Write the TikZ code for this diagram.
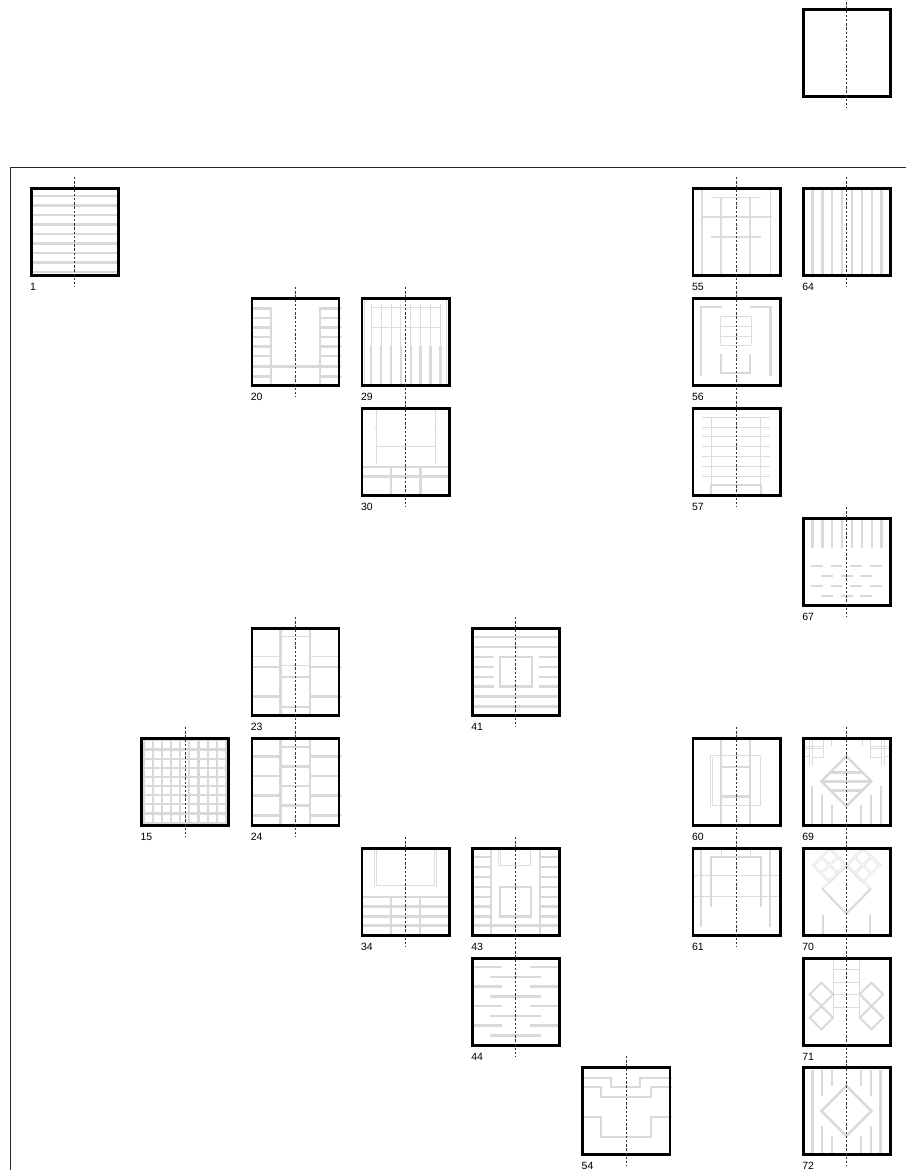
\documentclass[tikz,border=0pt]{standalone}
\usepackage{fontspec}
\setmainfont{Liberation Sans}
\definecolor{stripe}{HTML}{D9D9D9}
\definecolor{thinc}{HTML}{DCDCDC}
\tikzset{
  frame/.style={draw=black, line width=2.6pt, minimum size=87.2pt, inner sep=0pt, outer sep=0pt},
  g/.style={draw=stripe, line width=2.5pt},
  gm/.style={draw=stripe, line width=2pt},
  t/.style={draw=thinc, line width=1pt},
  tt/.style={draw=thinc, line width=0.7pt, double=white, double distance=0.9pt},
  axis/.style={draw=black!80, line width=0.6pt, dash pattern=on 2.4pt off 1.8pt},
  rule/.style={draw=black!85, line width=0.8pt},
  lbl/.style={font=\fontsize{10.5}{12}\selectfont, inner sep=0pt, anchor=north west},
}
\newcommand{\tile}[5]{%
  \begin{scope}[shift={(#2,#3)}]
    #5
    \node[frame] (#1) at (44.8,44.8) {};
    \draw[axis] (44.5,-10) -- (44.5,100);
    \node[lbl] (#1l) at (0,95.6) {#4};
  \end{scope}%
}
\newcommand{\cornerpat}{%
  \draw[t] (7.5,0)--(7.5,29.3) (10,0)--(10,29.3) (0,9.3)--(21,9.3) (0,11.3)--(21,11.3)
           (21,0)--(21,20.3)--(10,20.3) (29.3,0)--(29.3,9.3) (0,19.3)--(7.5,19.3);
}
\newcommand{\lobe}[2]{%
  \draw[tt] (#1,#2-16.7)--(#1+16.7,#2)--(#1,#2+16.7)--(#1-16.7,#2)--cycle
            (#1-8.35,#2-8.35)--(#1+8.35,#2+8.35) (#1+8.35,#2-8.35)--(#1-8.35,#2+8.35);
}
\begin{document}
\begin{tikzpicture}[x=1pt,y=-1pt]
\useasboundingbox (0,0) rectangle (906,1170);
\draw[rule] (10,167.3) -- (906,167.3);
\draw[rule] (10.5,167.3) -- (10.5,1170);

% top box
\tile{top}{802.2}{8}{}{}

% 1
\tile{b1}{30}{187}{1}{
  \foreach \y in {9,18.5,...,85} \draw[g] (0,\y)--(90,\y);
}
% 20
\tile{b20}{250.6}{297}{20}{
  \draw[g] (20.3,10)--(20.3,90) (69.3,10)--(69.3,90) (0,69.3)--(90,69.3);
  \foreach \y in {11.7,21,30.7,40,49.7,59,79.7} \draw[g] (0,\y)--(20.3,\y) (69.3,\y)--(90,\y);
}
% 29
\tile{b29}{360.9}{297}{29}{
  \foreach \x in {10.3,20.2,30.1,40,49.9,59.8,69.7,79.6} {\draw[t] (\x,6.7)--(\x,90); \draw[g] (\x,49)--(\x,90);}
  \draw[t] (10.3,10.7)--(79.6,10.7) (10.3,30)--(79.6,30);
  \draw[t] (3.5,0)--(3.5,90) (86,0)--(86,90);
}
% 30
\tile{b30}{360.9}{407}{30}{
  \draw[t] (15.3,0)--(15.3,56.7) (74.3,0)--(74.3,56.7) (15.3,39)--(74.3,39);
  \fill[stripe] (15.3,20) circle (1.2) (74.3,20) circle (1.2);
  \draw[g] (0,60)--(90,60) (0,69.3)--(90,69.3) (30,60)--(30,90) (59.5,60)--(59.5,90);
}
% 55
\tile{b55}{691.8}{187}{55}{
  \draw[t,line width=1.3pt] (10.3,0)--(10.3,90) (78.7,0)--(78.7,90) (29.3,10)--(29.3,90) (58.3,10)--(58.3,90)
    (19.3,10.7)--(69.3,10.7) (9.3,30)--(79.7,30) (19.3,50)--(69.3,50);
}
% 64
\tile{b64}{802.1}{187}{64}{
  \foreach \x in {10.3,20.2,30.1,40,49.9,59.8,69.7,79.6} \draw[g] (\x,0)--(\x,90);
}
% 56
\tile{b56}{691.8}{297}{56}{
  \draw[g] (9.3,79)--(9.3,10)--(30.3,10) (58.3,10)--(78.7,10)--(78.7,79);
  \draw[g] (29.3,57)--(29.3,76)--(58.3,76)--(58.3,57);
  \draw[t] (28.3,19)--(28.3,48.3) (59.3,19)--(59.3,48.3);
  \foreach \y in {19,29,39,48.3} \draw[t] (28.3,\y)--(59.3,\y);
}
% 57
\tile{b57}{691.8}{407}{57}{
  \foreach \y in {10,20,29.3,39.3,49,59,69.3} \draw[t] (10.3,\y)--(78,\y);
  \draw[t] (20,10)--(20,78) (68.7,10)--(68.7,78);
  \draw[gm] (19.3,90)--(19.3,78.3)--(69.3,78.3)--(69.3,90);
}
% 67
\tile{b67}{802.1}{517}{67}{
  \foreach \x in {10.3,20.2,30.1,40,49.9,59.8,69.7,79.6} \draw[g] (\x,0)--(\x,30.7);
  \foreach \y in {49,69} \foreach \a in {8.7,28.5,48.3,68} \draw[g] (\a,\y)--++(11.8,0);
  \foreach \y in {59,79} \foreach \a in {19,38.7,58.3} \draw[g] (\a,\y)--++(11.8,0);
}
% 23
\tile{b23}{250.6}{627}{23}{
  \draw[g] (30,0)--(30,90) (59.3,0)--(59.3,90);
  \draw[t] (0,29)--(30,29) (59.3,29)--(90,29) (30,9.3)--(59.3,9.3) (30,38.3)--(59.3,38.3);
  \draw[g] (0,40)--(30,40) (59.3,40)--(90,40) (0,69.3)--(30,69.3) (59.3,69.3)--(90,69.3);
  \draw[g] (30,50)--(59.3,50) (30,80)--(59.3,80);
}
% 41
\tile{b41}{471.2}{627}{41}{
  \foreach \y in {10,20,69.3,79.3} \draw[g] (0,\y)--(90,\y);
  \foreach \y in {30,40,50,59.3} \draw[g] (0,\y)--(22.3,\y) (67.3,\y)--(90,\y);
  \draw[g] (29,30) rectangle (60.7,59.3);
}
% 15
\tile{b15}{140.3}{737}{15}{
  \foreach \v in {3.3,12.45,...,87} \draw[g,line width=2.2pt] (\v,0)--(\v,90) (0,\v)--(90,\v);
}
% 24
\tile{b24}{250.6}{737}{24}{
  \draw[g] (30,0)--(30,90) (59.3,0)--(59.3,90);
  \foreach \y in {19.3,39,58.7,78.3} \draw[g] (0,\y)--(30,\y) (59.3,\y)--(90,\y);
  \foreach \y in {10,29.3,49,68.7} \draw[g] (30,\y)--(59.3,\y);
}
% 60
\tile{b60}{691.8}{737}{60}{
  \draw[tt] (19.8,19.3) rectangle (69.3,69.3);
  \draw[g] (29.3,0)--(29.3,90) (58.3,0)--(58.3,90) (29.3,30)--(58.3,30) (29.3,59.3)--(58.3,59.3);
}
% 69
\tile{b69}{802.1}{737}{69}{
  \cornerpat
  \begin{scope}[shift={(89.5,0)},xscale=-1] \cornerpat \end{scope}
  \draw[g] (44.3,19.3)--(69.3,44.3)--(44.3,69.3)--(19.3,44.3)--cycle;
  \draw[g] (28.3,35.3)--(60.3,35.3) (19.3,44.3)--(69.3,44.3) (28.3,53.3)--(60.3,53.3);
  \draw[g] (10,48.7)--(10,90) (20,57.7)--(20,90) (30,67.7)--(30,90)
           (78.7,48.7)--(78.7,90) (68.7,57.7)--(68.7,90) (58.7,67.7)--(58.7,90);
}
% 34
\tile{b34}{360.9}{847}{34}{
  \draw[tt] (14.7,0)--(14.7,39.3)--(74.7,39.3)--(74.7,0);
  \foreach \y in {50,59.3,69.3,78.7} \draw[g] (0,\y)--(90,\y);
  \draw[g] (30,50)--(30,90) (59.3,50)--(59.3,90);
}
% 43
\tile{b43}{471.2}{847}{43}{
  \draw[g] (20,0)--(20,90) (69,0)--(69,90);
  \foreach \y in {10,20,30,40,50,59.3,69.3} \draw[g] (0,\y)--(20,\y) (69,\y)--(90,\y);
  \draw[g] (0,78.7)--(90,78.7);
  \draw[tt] (28.3,0)--(28.3,19.3)--(60,19.3)--(60,0);
  \draw[g] (29,40) rectangle (60,69.3);
}
% 61
\tile{b61}{691.8}{847}{61}{
  \draw[t] (29.3,0)--(29.3,10) (58.3,0)--(58.3,10) (0,28)--(90,28) (0,49)--(90,49);
  \draw[g] (19.3,60)--(19.3,10)--(69.3,10)--(69.3,60);
  \draw[g] (9.3,0)--(9.3,80) (78.3,0)--(78.3,80);
}
% 70
\tile{b70}{802.1}{847}{70}{
  \lobe{27.7}{18.3}
  \lobe{61}{18.3}
  \draw[tt] (20,41.7)--(44.3,17.4)--(68.7,41.7);
  \draw[gm] (20,41.7)--(44.3,66.7)--(68.7,41.7);
  \draw[g] (21,68)--(21,90) (67.7,68)--(67.7,90);
}
% 44
\tile{b44}{471.2}{957}{44}{
  \foreach \y in {10,29.3,49,68.7} \draw[g] (0,\y)--(30.7,\y) (58.3,\y)--(90,\y);
  \foreach \y in {20,39.3,59,78.3} \draw[g] (18.3,\y)--(70,\y);
}
% 71
\tile{b71}{802.1}{957}{71}{
  \draw[t] (31,0)--(31,62) (57.7,0)--(57.7,62);
  \foreach \y in {12.3,25,37.3,50} \draw[t] (31,\y)--(57.7,\y);
  \foreach \cx in {19.3,69.3} {
    \draw[gm] (\cx,25.6)--++(11.7,11.7)--++(-11.7,11.7)--++(-11.7,-11.7)--cycle;
    \draw[gm] (\cx,49)--++(11.7,11.7)--++(-11.7,11.7)--++(-11.7,-11.7)--cycle;
  }
}
% 54
\tile{b54}{581.5}{1066}{54}{
  \draw[gm] (0,12.3)--(29.3,12.3)--(29.3,20.7)--(58.3,20.7)--(58.3,12.3)--(90,12.3);
  \draw[gm] (0,20.7)--(19.3,20.7)--(19.3,30.7)--(69.3,30.7)--(69.3,20.7)--(90,20.7);
  \draw[gm] (0,50.7)--(19.3,50.7)--(19.3,70.7)--(69.3,70.7)--(69.3,50.7)--(90,50.7);
}
% 72
\tile{b72}{802.1}{1066}{72}{
  \draw[g] (44.3,20)--(69.3,45)--(44.3,70)--(19.3,45)--cycle;
  \draw[g] (10.3,4)--(10.3,87) (20,4)--(20,30) (20,60)--(20,87) (30,4)--(30,20) (30,70)--(30,87);
  \draw[g] (78.3,4)--(78.3,87) (68.7,4)--(68.7,30) (68.7,60)--(68.7,87) (58.7,4)--(58.7,20) (58.7,70)--(58.7,87);
}
\end{tikzpicture}
\end{document}
